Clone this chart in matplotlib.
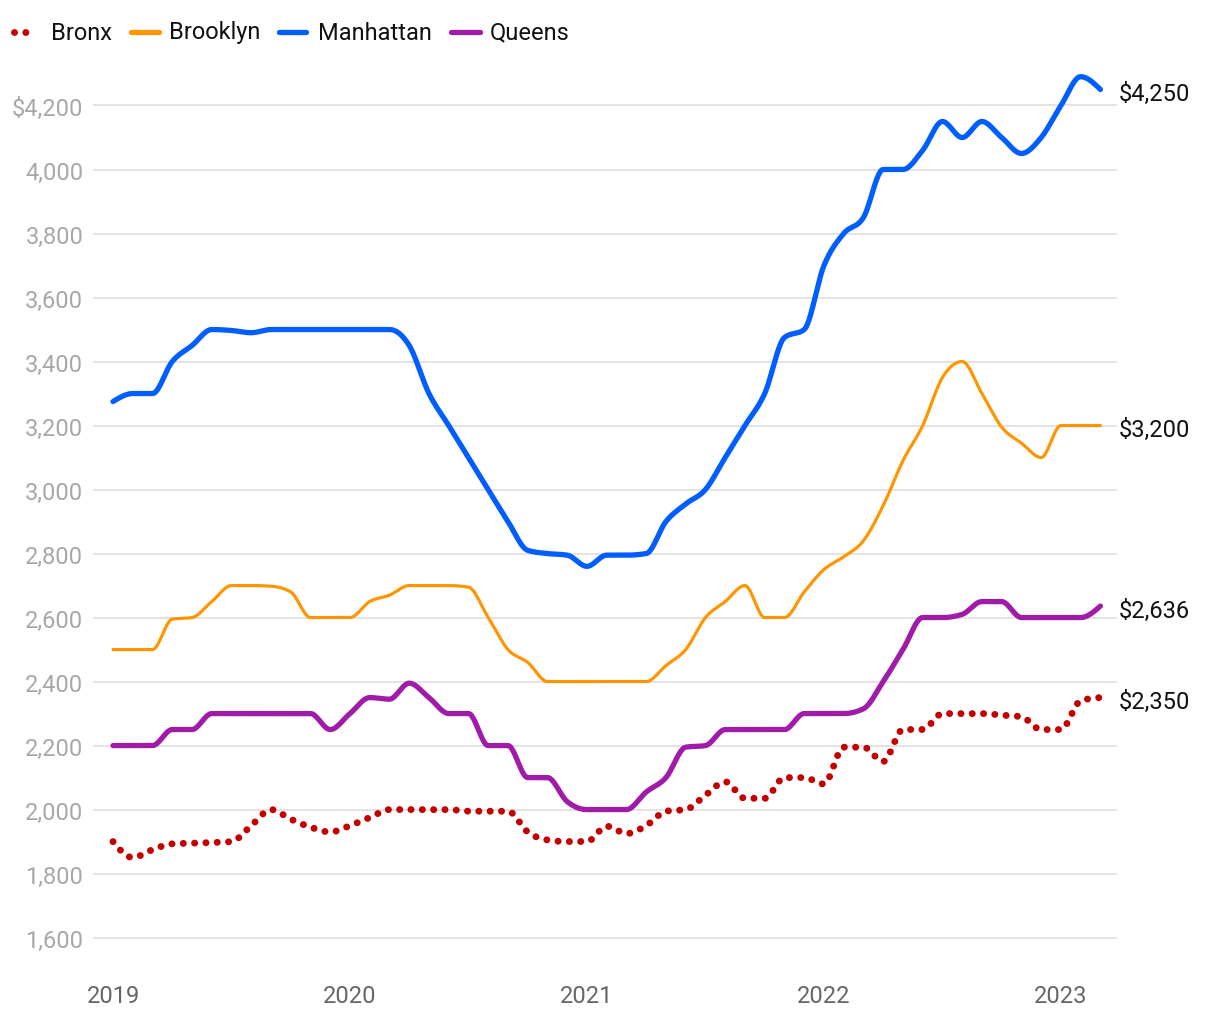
import numpy as np
import matplotlib
matplotlib.use("Agg")
import matplotlib.pyplot as plt
from matplotlib.lines import Line2D

plt.rcParams['font.family'] = ['Roboto', 'DejaVu Sans']

# ---- data: monthly median rent, Jan 2019 .. Mar 2023 ----
months = np.arange(51)  # 0 = Jan 2019
year_ticks = [0, 12, 24, 36, 48]
year_labels = ["2019", "2020", "2021", "2022", "2023"]
y_ticks = [1600, 1800, 2000, 2200, 2400, 2600, 2800, 3000, 3200, 3400, 3600, 3800, 4000, 4200]

bronx = [1900, 1850, 1875, 1893, 1895, 1897, 1900, 1950, 2000, 1970, 1945, 1930,
         1950, 1975, 2000, 2000, 2000, 2000, 1995, 1995, 1995, 1930, 1905, 1900,
         1900, 1948, 1925, 1950, 1995, 2000, 2045, 2087, 2035, 2035, 2100, 2100,
         2080, 2195, 2195, 2150, 2250, 2250, 2300, 2300, 2300, 2295, 2290, 2250,
         2250, 2340, 2350]
brooklyn = [2500, 2500, 2500, 2595, 2600, 2650, 2700, 2700, 2698, 2680, 2600, 2600,
            2600, 2650, 2670, 2700, 2700, 2700, 2695, 2600, 2500, 2460, 2400, 2400,
            2400, 2400, 2400, 2400, 2450, 2500, 2600, 2650, 2700, 2600, 2600, 2680,
            2750, 2790, 2840, 2950, 3090, 3200, 3350, 3400, 3300, 3195, 3145, 3100,
            3200, 3200, 3200]
manhattan = [3275, 3300, 3300, 3400, 3450, 3500, 3497, 3490, 3500, 3500, 3500, 3500,
             3500, 3500, 3500, 3450, 3300, 3200, 3100, 3000, 2900, 2810, 2800, 2795,
             2760, 2795, 2795, 2800, 2900, 2955, 3000, 3100, 3200, 3300, 3475, 3500,
             3700, 3800, 3850, 4000, 4000, 4060, 4150, 4100, 4150, 4100, 4050, 4100,
             4200, 4290, 4250]
queens = [2200, 2200, 2200, 2250, 2250, 2300, 2300, 2300, 2300, 2300, 2300, 2250,
          2300, 2350, 2345, 2395, 2350, 2300, 2300, 2200, 2200, 2100, 2100, 2025,
          2000, 2000, 2000, 2055, 2100, 2195, 2200, 2250, 2250, 2250, 2250, 2300,
          2300, 2300, 2315, 2400, 2500, 2600, 2600, 2610, 2650, 2650, 2600, 2600,
          2600, 2600, 2636]
end_labels = ["$2,350", "$3,200", "$4,250", "$2,636"]
series_names = ["Bronx", "Brooklyn", "Manhattan", "Queens"]
colors = ["#c40000", "#ff9500", "#005eff", "#a01ca8"]


def monotone_path(x, y, steps=24):
    """Monotone cubic (d3 monotoneX-style) curve through the data points."""
    x = np.asarray(x, float)
    y = np.asarray(y, float)
    h = np.diff(x)
    s = np.diff(y) / h
    n = len(x)
    t = np.zeros(n)
    for i in range(1, n - 1):
        s0, s1 = s[i - 1], s[i]
        p = (s0 * h[i] + s1 * h[i - 1]) / (h[i - 1] + h[i])
        t[i] = (np.sign(s0) + np.sign(s1)) * min(abs(s0), abs(s1), 0.5 * abs(p))
    t[0] = (3 * s[0] - t[1]) / 2
    t[-1] = (3 * s[-1] - t[-2]) / 2
    xs, ys = [], []
    for i in range(n - 1):
        u = np.linspace(0, 1, steps, endpoint=(i == n - 2))
        h00 = 2 * u**3 - 3 * u**2 + 1
        h10 = u**3 - 2 * u**2 + u
        h01 = -2 * u**3 + 3 * u**2
        h11 = u**3 - u**2
        xs.append(x[i] + u * h[i])
        ys.append(h00 * y[i] + h10 * h[i] * t[i] + h01 * y[i + 1] + h11 * h[i] * t[i + 1])
    return np.concatenate(xs), np.concatenate(ys)


W, H = 1220, 1020
fig = plt.figure(figsize=(W / 100, H / 100), dpi=100)
ax_left, ax_right, ax_top, ax_bottom = 93, 1117, 61.5, 977
ax = fig.add_axes([ax_left / W, 1 - ax_bottom / H, (ax_right - ax_left) / W, (ax_bottom - ax_top) / H])

ax.set_xlim(-1.013, 50.84)
ax.set_ylim(1480, 4340.6)

for sp in ax.spines.values():
    sp.set_visible(False)
ax.set_yticks(y_ticks)
ax.set_yticklabels([("$" if v == y_ticks[-1] else "") + f"{v:,}" for v in y_ticks])
ax.set_xticks(year_ticks)
ax.set_xticklabels(year_labels)
ax.tick_params(axis='y', length=0, pad=7, labelsize=17, labelcolor="#a8a8a8")
ax.tick_params(axis='x', length=0, pad=6, labelsize=17, labelcolor="#666666")
ax.grid(axis='y', color="#e3e3e3", linewidth=1.4)
ax.set_axisbelow(True)

all_series = [bronx, brooklyn, manhattan, queens]
widths = [5.0, 2.3, 3.8, 3.8]
for name, vals, col, lw, lab in zip(series_names, all_series, colors, widths, end_labels):
    px, py = monotone_path(months, vals)
    if name == "Bronx":
        ax.plot(px, py, color=col, lw=lw, linestyle=(0, (0.01, 1.62)),
                solid_capstyle='round', dash_capstyle='round', clip_on=False, zorder=3)
    else:
        ax.plot(px, py, color=col, lw=lw, solid_capstyle='round',
                solid_joinstyle='round', clip_on=False, zorder=3)
    ax.annotate(lab, xy=(months[-1], vals[-1]), xytext=(13, -3), textcoords='offset points',
                va='center', ha='left', fontsize=17, color="#111111", annotation_clip=False)

# ---- legend (drawn manually in figure pixel space) ----
def fx(px_):
    return px_ / W


def fy(py_):
    return 1 - py_ / H


ly = 33
legend_items = [
    ("Bronx", colors[0], None, 51),
    ("Brooklyn", colors[1], (131, 159), 169),
    ("Manhattan", colors[2], (279, 306), 318),
    ("Queens", colors[3], (451, 480), 490),
]
for name, col, seg, tx in legend_items:
    if seg is None:
        fig.add_artist(Line2D([fx(14), fx(25.5)], [fy(ly), fy(ly)], color=col, lw=5,
                              linestyle=(0, (0.01, 1.62)), dash_capstyle='round',
                              transform=fig.transFigure))
    else:
        fig.add_artist(Line2D([fx(seg[0]), fx(seg[1])], [fy(ly), fy(ly)], color=col, lw=3.8,
                              solid_capstyle='round', transform=fig.transFigure))
    fig.text(fx(tx), fy(ly), name, va='center', ha='left', fontsize=17, color="#111111")

fig.savefig("out.png", dpi=100, facecolor="white")
